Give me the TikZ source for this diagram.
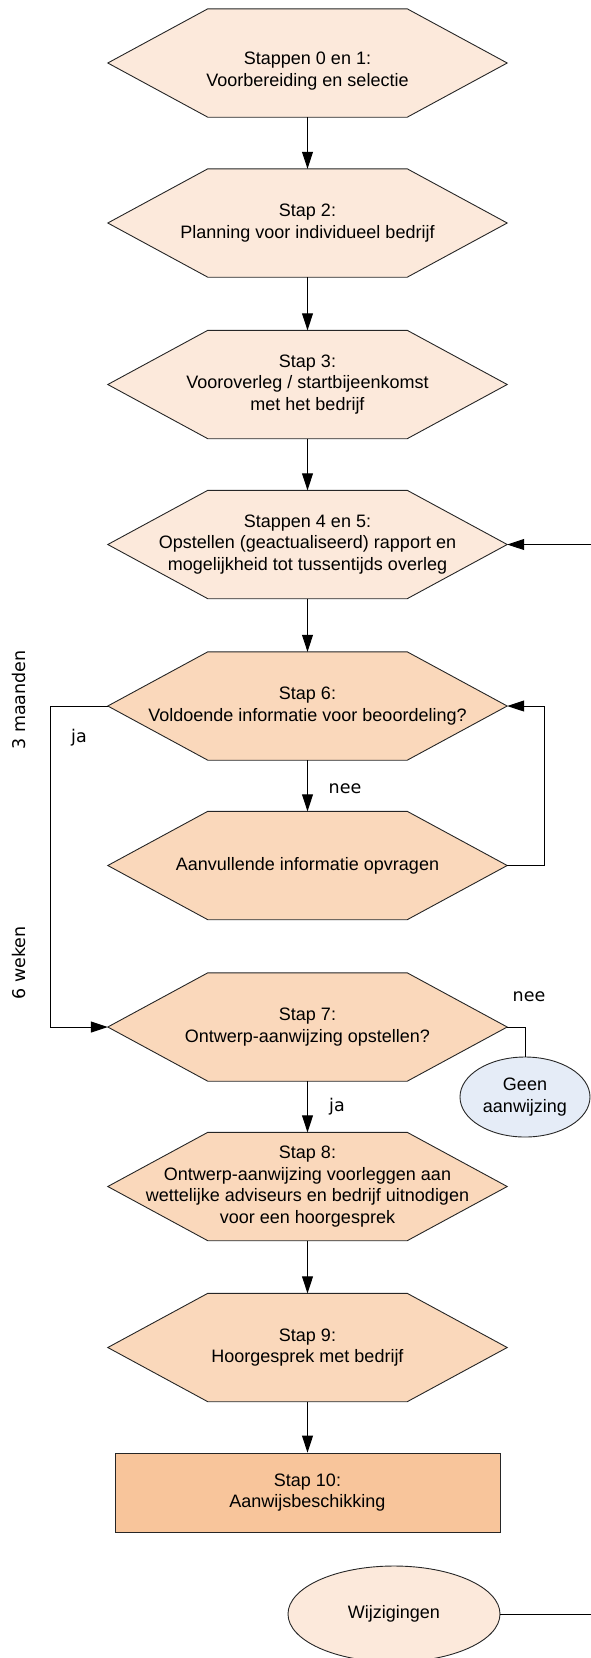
\documentclass[tikz,border=0pt]{standalone}
\usepackage{fontspec}
\setmainfont{Liberation Sans}
\newfontfamily\lblfont{DejaVu Sans}
\usetikzlibrary{arrows.meta,shapes.geometric,backgrounds}
\definecolor{peachA}{HTML}{FCE9DB}
\definecolor{peachB}{HTML}{FAD8BB}
\definecolor{peachC}{HTML}{F8C59B}
\definecolor{blueA}{HTML}{E5ECF7}
\tikzset{
  box/.style={font=\fontsize{18}{21.7}\selectfont, align=center, inner sep=0pt, text=black},
  hexnode/.style={box, minimum width=399pt, minimum height=108pt},
  hexshape/.style={draw=black!85, line width=0.9pt},
  conn/.style={draw=black, line width=1pt},
  arr/.style={conn, -{Triangle[length=17pt,width=11pt]}},
  lbl/.style={font=\lblfont\fontsize{17.5}{20}\selectfont, inner sep=0pt, text=black},
}
\begin{document}
\begin{tikzpicture}[x=1pt,y=-1pt]
\useasboundingbox (0,0) rectangle (591,1658);
\clip (0,0) rectangle (591,1658);

% step boxes
\node[hexnode] (s1) at (307.5,63) {\raisebox{-8pt}[\height][\depth]{\begin{tabular}{@{}c@{}}Stappen 0 en 1:\\Voorbereiding en selectie\end{tabular}}};
\node[hexnode] (s2) at (307.5,223) {Stap 2:\\Planning voor individueel bedrijf};
\node[hexnode] (s3) at (307.5,384.5) {Stap 3:\\Vooroverleg / startbijeenkomst\\met het bedrijf};
\node[hexnode] (s4) at (307.5,544.5) {Stappen 4 en 5:\\Opstellen (geactualiseerd) rapport en\\mogelijkheid tot tussentijds overleg};
\node[hexnode] (s6) at (307.5,706) {Stap 6:\\Voldoende informatie voor beoordeling?};
\node[hexnode] (sA) at (307.5,865.5) {Aanvullende informatie opvragen};
\node[hexnode] (s7) at (307.5,1027) {Stap 7:\\Ontwerp-aanwijzing opstellen?};
\node[hexnode] (s8) at (307.5,1186.5) {Stap 8:\\Ontwerp-aanwijzing voorleggen aan\\wettelijke adviseurs en bedrijf uitnodigen\\voor een hoorgesprek};
\node[hexnode] (s9) at (307.5,1347.5) {Stap 9:\\Hoorgesprek met bedrijf};
\node[box, draw=black!85, line width=0.9pt, fill=peachC, minimum width=385pt, minimum height=79pt] (s10) at (307.5,1492.5) {Stap 10:\\Aanwijsbeschikking};
\node[box, ellipse, draw=black!85, line width=0.9pt, fill=blueA, minimum width=130pt, minimum height=80pt] (geen) at (525,1097) {Geen\\aanwijzing};
\node[box, ellipse, draw=black!85, line width=0.9pt, fill=peachA, minimum width=212pt, minimum height=96pt] (wijz) at (394,1614) {Wijzigingen};

\begin{scope}[on background layer]
\foreach \n/\c in {s1/peachA,s2/peachA,s3/peachA,s4/peachA,s6/peachB,sA/peachB,s7/peachB,s8/peachB,s9/peachB}
  \filldraw[hexshape, fill=\c] (\n.west) -- ([xshift=100pt]\n.north west) -- ([xshift=-100pt]\n.north east) -- (\n.east) -- ([xshift=-100pt]\n.south east) -- ([xshift=100pt]\n.south west) -- cycle;
\end{scope}

% connectors
\draw[arr] (s1.south) -- (s2.north);
\draw[arr] (s2.south) -- (s3.north);
\draw[arr] (s3.south) -- (s4.north);
\draw[arr] (s4.south) -- (s6.north);
\draw[arr] (s6.south) -- (sA.north);
\draw[arr] (s7.south) -- (s8.north);
\draw[arr] (s8.south) -- (s9.north);
\draw[arr] (s9.south) -- (s10.north);
\draw[arr] (s6.west) -- ++(-57,0) |- (s7.west);
\draw[arr] (sA.east) -- ++(37,0) |- (s6.east);
\draw[conn] (s7.east) -| (geen.north);
\draw[arr] (wijz.east) -- ++(130,0) |- (s4.east);

% labels
\node[lbl] (l1) at (79,738) {ja};
\node[lbl] (l2) at (345,789) {nee};
\node[lbl] (l3) at (529,997) {nee};
\node[lbl] (l4) at (337,1107) {ja};
\node[lbl, rotate=90] (l5) at (19,700) {3 maanden};
\node[lbl, rotate=90] (l6) at (19,963) {6 weken};
\end{tikzpicture}
\end{document}
